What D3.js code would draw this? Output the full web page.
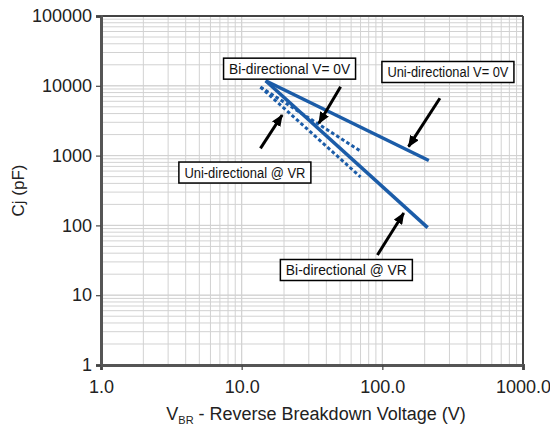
<!DOCTYPE html>
<html><head><meta charset="utf-8">
<script src="https://cdn.jsdelivr.net/npm/d3@7"></script>
<style>body{margin:0;background:#fff}svg{display:block}</style>
</head><body>
<svg id="c" width="550" height="430"></svg>
<script>
// ---- data ----
const xTickValues = [1, 10, 100, 1000];
const xTickLabels = ["1.0", "10.0", "100.0", "1000.0"];
const yTickValues = [1, 10, 100, 1000, 10000, 100000];
const yTickLabels = ["1", "10", "100", "1000", "10000", "100000"];

const uniV0 = [[14.8, 11800], [214, 850]];   // Uni-directional V=0V (solid)
const biVR  = [[14.8, 11800], [210, 93]];    // Bi-directional @VR (solid)
const biV0  = [[13.6, 9600], [70, 1160]];    // Bi-directional V=0V (dashed)
const uniVR = [[13.6, 9600], [70, 494]];     // Uni-directional @VR (dashed)

const labelTexts = ["Bi-directional V= 0V", "Uni-directional V= 0V", "Uni-directional @ VR", "Bi-directional @ VR"];
const labelAnchors = [[21.9, 17600], [292.6, 15770], [10.54, 572], [55.5, 22.96]];
const arrowTails = [[50.5, 9710], [256.6, 6620], [13.6, 1272], [92.3, 37.7]];
const arrowTips  = [[35.4, 2900], [153.5, 1342], [19.4, 3815], [142, 150.6]];

// ---- layout ----
const W = 550, H = 430;
const m = {l: 101, r: 27, t: 16, b: 65};
const svg = d3.select("#c");
const x = d3.scaleLog().domain([1, 1000]).range([m.l, W - m.r]);
const y = d3.scaleLog().domain([1, 100000]).range([H - m.b, m.t]);
const font = "'Liberation Sans', Arial, sans-serif";
const blue = "#1b5ca8";

// minor grid values
const gridX = [], gridY = [];
for (let d = 1; d < 1000; d *= 10) for (let k = 1; k <= 10; k++) gridX.push(d * k);
for (let d = 1; d < 100000; d *= 10) for (let k = 1; k <= 10; k++) gridY.push(d * k);

const g = svg.append("g");
g.selectAll("line.gx").data(gridX).join("line")
  .attr("x1", d => x(d)).attr("x2", d => x(d)).attr("y1", m.t).attr("y2", H - m.b)
  .attr("stroke", "#d2d2d2").attr("stroke-width", 1);
g.selectAll("line.gy").data(gridY).join("line")
  .attr("y1", d => y(d)).attr("y2", d => y(d)).attr("x1", m.l).attr("x2", W - m.r)
  .attr("stroke", "#d2d2d2").attr("stroke-width", 1);

// frame
svg.append("line").attr("x1", m.l).attr("x2", W - m.r).attr("y1", m.t).attr("y2", m.t).attr("stroke", "#444").attr("stroke-width", 2);
svg.append("line").attr("x1", W - m.r).attr("x2", W - m.r).attr("y1", m.t).attr("y2", H - m.b).attr("stroke", "#444").attr("stroke-width", 2);

// axes
const xAxis = d3.axisBottom(x).tickValues(xTickValues).tickFormat((d, i) => xTickLabels[i]).tickSize(5).tickPadding(10);
const yAxis = d3.axisLeft(y).tickValues(yTickValues).tickFormat((d, i) => yTickLabels[i]).tickSize(5).tickPadding(4);
const gx = svg.append("g").attr("transform", `translate(0,${H - m.b})`).call(xAxis);
const gy = svg.append("g").attr("transform", `translate(${m.l},0)`).call(yAxis);
[gx, gy].forEach(a => {
  a.select(".domain").attr("stroke", "#555").attr("stroke-width", 3);
  a.selectAll(".tick line").attr("stroke", "#444").attr("stroke-width", 1.2);
  a.selectAll(".tick text").attr("font-family", font).attr("font-size", 18).attr("fill", "#222");
});

// series
const line = d3.line().x(d => x(d[0])).y(d => y(d[1]));
const series = [
  {data: uniV0, dash: null, w: 3.5},
  {data: biVR, dash: null, w: 3.5},
  {data: biV0, dash: "3.5,2.5", w: 3},
  {data: uniVR, dash: "3.5,2.5", w: 3}
];
svg.selectAll("path.s").data(series).join("path")
  .attr("d", d => line(d.data)).attr("fill", "none").attr("stroke", blue)
  .attr("stroke-width", d => d.w).attr("stroke-dasharray", d => d.dash);

// arrows
svg.append("defs").append("marker").attr("id", "ah")
  .attr("viewBox", "0 0 12 10").attr("refX", 11).attr("refY", 5)
  .attr("markerWidth", 12).attr("markerHeight", 10).attr("markerUnits", "userSpaceOnUse")
  .attr("orient", "auto")
  .append("path").attr("d", "M0,0 L12,5 L0,10 Z").attr("fill", "#000");
svg.selectAll("line.arr").data(arrowTails).join("line")
  .attr("x1", d => x(d[0])).attr("y1", d => y(d[1]))
  .attr("x2", (d, i) => x(arrowTips[i][0])).attr("y2", (d, i) => y(arrowTips[i][1]))
  .attr("stroke", "#000").attr("stroke-width", 3).attr("marker-end", "url(#ah)");

// labels
const lb = svg.selectAll("g.lab").data(labelTexts).join("g")
  .attr("transform", (d, i) => `translate(${x(labelAnchors[i][0])},${y(labelAnchors[i][1])})`);
lb.append("rect").attr("x", -66).attr("y", -10.5).attr("width", 132).attr("height", 21)
  .attr("fill", "#fff").attr("stroke", "#000").attr("stroke-width", 1.5);
lb.append("text").text(d => d).attr("text-anchor", "middle").attr("dy", "0.36em")
  .attr("font-family", font).attr("font-size", 14).attr("fill", "#111")
  .attr("textLength", 121).attr("lengthAdjust", "spacingAndGlyphs");

// axis titles
const xt = svg.append("text").attr("x", (m.l + W - m.r) / 2 + 4).attr("y", 420)
  .attr("text-anchor", "middle").attr("font-family", font).attr("font-size", 18).attr("fill", "#222");
xt.append("tspan").text("V");
xt.append("tspan").text("BR").attr("font-size", 11).attr("dy", 4);
xt.append("tspan").text(" - Reverse Breakdown Voltage (V)").attr("dy", -4);

svg.append("text").attr("transform", `translate(24,${(m.t + H - m.b) / 2})rotate(-90)`)
  .attr("text-anchor", "middle").attr("font-family", font).attr("font-size", 17).attr("fill", "#222")
  .text("Cj (pF)");
</script>
</body></html>
